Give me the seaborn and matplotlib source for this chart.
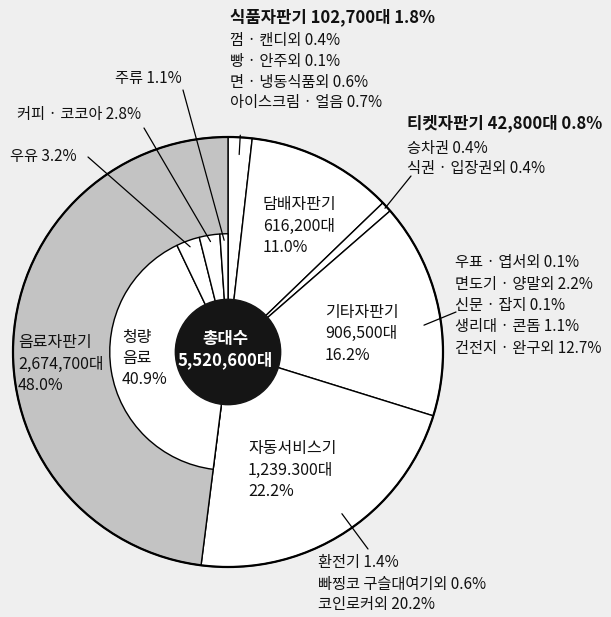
import numpy as np
import matplotlib
matplotlib.use('Agg')
import matplotlib.pyplot as plt
import seaborn as sns
from matplotlib.patches import Circle

# ---- data ----
total_label = '총대수'
total_units = '5,520,600대'

categories = ['식품자판기', '담배자판기', '티켓자판기', '기타자판기', '자동서비스기', '음료자판기']
units = ['102,700대', '616,200대', '42,800대', '906,500대', '1,239.300대', '2,674,700대']
shares = [1.8, 11.0, 0.8, 16.2, 22.2, 48.0]

drink_names = ['청량\n음료', '우유', '커피 · 코코아', '주류']
drink_shares = [40.9, 3.2, 2.8, 1.1]

food_names = ['껌 · 캔디외', '빵 · 안주외', '면 · 냉동식품외', '아이스크림 · 얼음']
food_shares = [0.4, 0.1, 0.6, 0.7]

ticket_names = ['승차권', '식권 · 입장권외']
ticket_shares = [0.4, 0.4]

other_names = ['우표 · 엽서외', '면도기 · 양말외', '신문 · 잡지', '생리대 · 콘돔', '건전지 · 완구외']
other_shares = [0.1, 2.2, 0.1, 1.1, 12.7]

service_names = ['환전기', '빠찡코 구슬대여기외', '코인로커외']
service_shares = [1.4, 0.6, 20.2]

# ---- style ----
sns.set_theme(style='white')
plt.rcParams['font.family'] = ['Noto Sans CJK KR', 'DejaVu Sans']

W, H = 611, 617
fig = plt.figure(figsize=(W / 100, H / 100), dpi=100)
fig.patch.set_facecolor('#efefef')
ax = fig.add_axes([0, 0, 1, 1])

cx, cy, R = 228, H - 352, 215
inner_r = 0.55 * R
hub_r = 0.245 * R
ring_grey = '#c3c3c3'

# outer ring: categories
outer_colors = ['white'] * (len(shares) - 1) + [ring_grey]
outer, _ = ax.pie(shares, center=(cx, cy), radius=R, startangle=90, counterclock=False,
                  colors=outer_colors, wedgeprops=dict(edgecolor='black', linewidth=1.0))

# inner part: drink breakdown inside the beverage sector
inner_vals = shares[:-1] + drink_shares
inner, _ = ax.pie(inner_vals, center=(cx, cy), radius=inner_r, startangle=90, counterclock=False,
                  colors=['white'] * len(inner_vals), wedgeprops=dict(edgecolor='black', linewidth=1.0))
n_other = len(shares) - 1
for w in inner[:n_other]:
    w.set_facecolor('none')
    w.set_edgecolor('none')

ax.add_patch(Circle((cx, cy), R, fill=False, edgecolor='black', linewidth=1.6, zorder=3))
ax.add_patch(Circle((cx, cy), hub_r, facecolor='#151515', edgecolor='#151515', zorder=4))

ax.set_xlim(0, W)
ax.set_ylim(0, H)
ax.set_aspect('equal')
ax.axis('off')


def put(x, y, s, size=11.5, **kw):
    kw.setdefault('ha', 'left')
    kw.setdefault('va', 'center')
    ax.text(x, H - y, s, fontsize=size, color=kw.pop('color', '#111111'), zorder=6, **kw)


def anchor(wedge, frac, rfrac):
    a = np.deg2rad(wedge.theta1 + frac * (wedge.theta2 - wedge.theta1))
    return cx + rfrac * R * np.cos(a), cy + rfrac * R * np.sin(a)


def leader(x, y, wedge, frac, rfrac):
    ax_, ay_ = anchor(wedge, frac, rfrac)
    ax.plot([x, ax_], [H - y, ay_], color='black', linewidth=0.9, zorder=5)


pct = lambda v: f'{v:.1f}%'

# center
put(225, 339, total_label, size=12, ha='center', color='white', fontweight='bold')
put(225, 360, total_units, size=12, ha='center', color='white', fontweight='bold')

# 식품
put(230, 17, f'{categories[0]} {units[0]} {pct(shares[0])}', size=12, fontweight='bold')
for i, (n, v) in enumerate(zip(food_names, food_shares)):
    put(230, 41 + i * 20.5, f'{n} {pct(v)}', size=11)
a1 = anchor(outer[0], 0.5, 1.01)
a2 = anchor(outer[0], 0.5, 0.92)
ax.plot([a1[0], a2[0]], [a1[1], a2[1]], color='black', linewidth=0.9, zorder=5)

# 담배
put(263, 204, categories[1])
put(263, 226, units[1])
put(263, 248, pct(shares[1]))

# 티켓
put(407, 123, f'{categories[2]} {units[2]} {pct(shares[2])}', size=12, fontweight='bold')
for i, (n, v) in enumerate(zip(ticket_names, ticket_shares)):
    put(407, 148 + i * 21, f'{n} {pct(v)}', size=11)
leader(411, 176, outer[2], 0.5, 0.99)

# 기타
put(325, 312, categories[3])
put(325, 333, units[3])
put(325, 355, pct(shares[3]))
for i, (n, v) in enumerate(zip(other_names, other_shares)):
    put(455, 263 + i * 21.3, f'{n} {pct(v)}', size=11)
leader(456, 312, outer[3], 0.43, 0.92)

# 자동서비스기
put(248, 449, categories[4])
put(248, 470, units[4])
put(248, 492, pct(shares[4]))
for i, (n, v) in enumerate(zip(service_names, service_shares)):
    put(318, 563 + i * 21, f'{n} {pct(v)}', size=11)
leader(368, 549, outer[4], 0.53, 0.92)

# 음료
put(18, 343, categories[5])
put(18, 364, units[5])
put(18, 386, pct(shares[5]))
put(122, 348, f'{drink_names[0]}', linespacing=1.25)
put(122, 379, pct(drink_shares[0]))

drink_wedges = inner[n_other:]
drink_label_pos = [None, (10, 157), (17, 115), (115, 78)]
drink_line_start = [None, (88, 157), (144, 128), (183, 90)]
for i in range(1, len(drink_names)):
    x, y = drink_label_pos[i]
    put(x, y, f'{drink_names[i]} {pct(drink_shares[i])}', size=11)
    sx, sy = drink_line_start[i]
    leader(sx, sy, drink_wedges[i], 0.5, 0.52)

fig.savefig('out.png', dpi=100, facecolor=fig.get_facecolor())
